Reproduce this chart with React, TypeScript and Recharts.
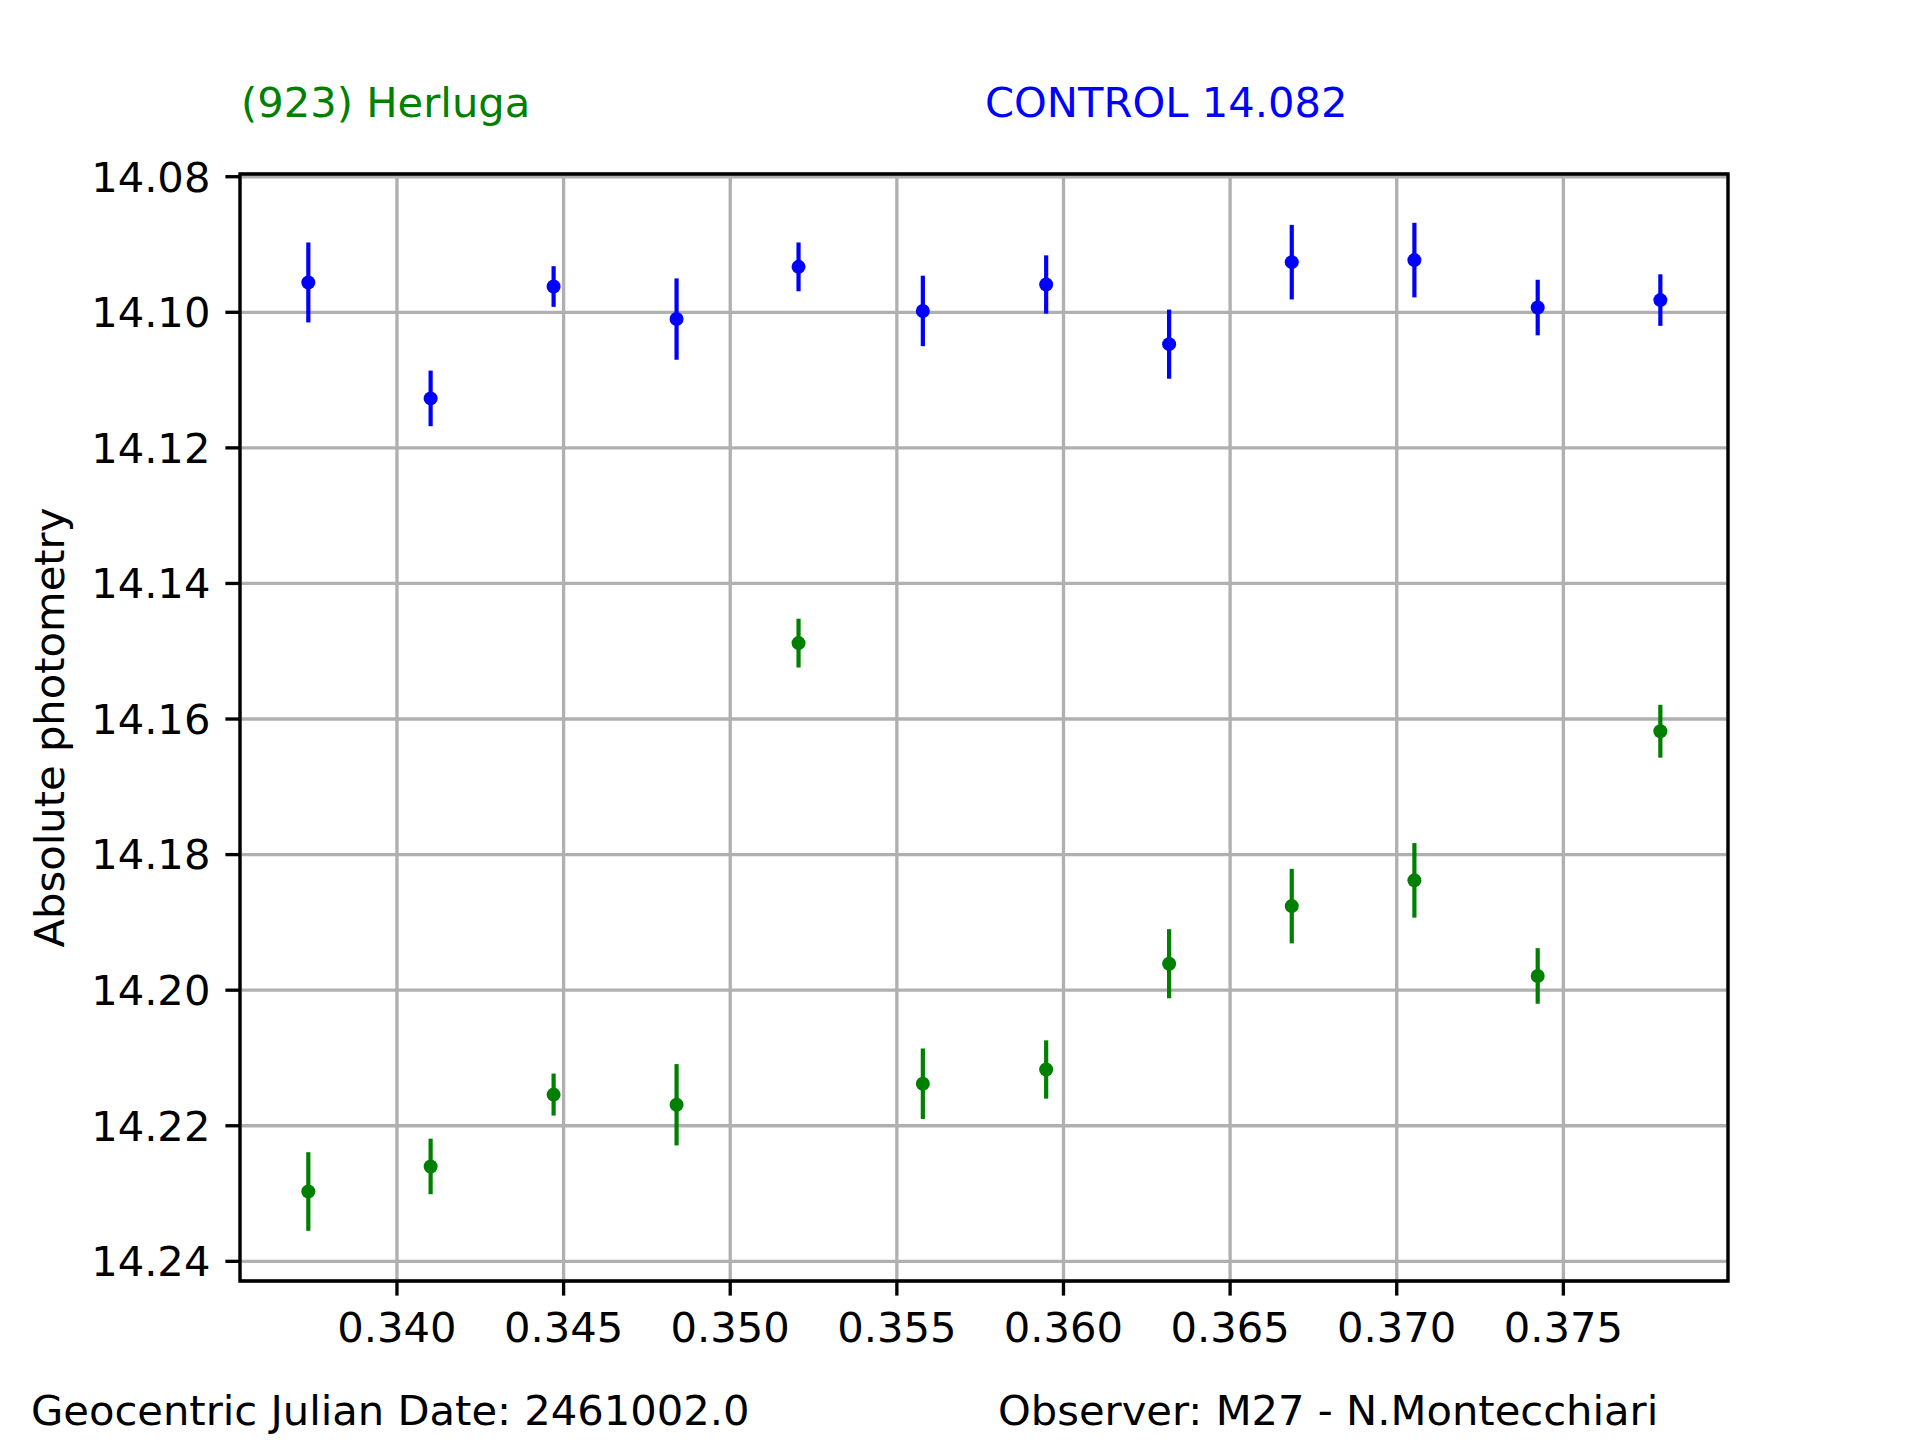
import React from 'react';
import { ScatterChart, Scatter, XAxis, YAxis, CartesianGrid, ErrorBar, ReferenceArea } from 'recharts';

// Time (fraction of day, GJD 2461002.0 +)
const times = [0.33734, 0.34101, 0.3447, 0.34839, 0.35205, 0.35578, 0.35948, 0.36317, 0.36685, 0.37053, 0.37423, 0.37791];
// (923) Herluga magnitudes and errors
const targetMag = [14.2297, 14.226, 14.2154, 14.2169, 14.1488, 14.2138, 14.2117, 14.1961, 14.1876, 14.1838, 14.1979, 14.1618];
const targetErr = [0.0058, 0.0041, 0.0031, 0.006, 0.0036, 0.0052, 0.0043, 0.0051, 0.0055, 0.0055, 0.0041, 0.0039];
// Control star magnitudes and errors
const controlMag = [14.0956, 14.1127, 14.0962, 14.101, 14.0933, 14.0998, 14.0959, 14.1047, 14.0926, 14.0923, 14.0993, 14.0982];
const controlErr = [0.0059, 0.0041, 0.003, 0.006, 0.0036, 0.0052, 0.0043, 0.0051, 0.0055, 0.0055, 0.0041, 0.0038];

const xTicks = [0.34, 0.345, 0.35, 0.355, 0.36, 0.365, 0.37, 0.375];
const yTicks = [14.08, 14.1, 14.12, 14.14, 14.16, 14.18, 14.2, 14.22, 14.24];
const xDomain = [0.33529, 0.37994];
const yDomain = [14.0796, 14.2429];

const targetLabel = '(923) Herluga';
const controlLabel = 'CONTROL 14.082';
const xFooter = 'Geocentric Julian Date: 2461002.0';
const observer = 'Observer: M27 - N.Montecchiari';
const yLabel = 'Absolute photometry';

const targetData = times.map((t, i) => ({ x: t, y: targetMag[i], err: targetErr[i] }));
const controlData = times.map((t, i) => ({ x: t, y: controlMag[i], err: controlErr[i] }));

const FONT = 'DejaVu Sans';
const FS = 41.67;
const LW = 3.33;
const BLUE = '#0000ff';
const GREEN = '#008000';

const X_AXIS_H = 80;
const Y_AXIS_W = 140;

const dot = (color: string) => (p: any) => <circle cx={p.cx} cy={p.cy} r={7} fill={color} />;

export default function App() {
  return (
    <div style={{ position: 'absolute', left: 0, top: 0, width: 1920, height: 1440, background: '#fff' }}>
      <div style={{ position: 'absolute', left: 0, top: 0 }}>
        <ScatterChart
          width={1920}
          height={1440}
          margin={{ top: 174, right: 192, bottom: 159 - X_AXIS_H, left: 240 - Y_AXIS_W }}
        >
          <CartesianGrid stroke="#b0b0b0" strokeWidth={LW} />
          <XAxis
            type="number"
            dataKey="x"
            domain={xDomain}
            allowDataOverflow
            ticks={xTicks}
            interval={0}
            tickFormatter={(v: number) => v.toFixed(3)}
            height={X_AXIS_H}
            axisLine={false}
            tickSize={14.6}
            tickMargin={17}
            tickLine={{ stroke: '#000', strokeWidth: LW }}
            tick={{ fill: '#000', fontSize: FS, fontFamily: FONT }}
          />
          <YAxis
            type="number"
            dataKey="y"
            reversed
            domain={yDomain}
            allowDataOverflow
            ticks={yTicks}
            interval={0}
            tickFormatter={(v: number) => v.toFixed(2)}
            width={Y_AXIS_W}
            axisLine={false}
            tickSize={14.6}
            tickMargin={15}
            tickLine={{ stroke: '#000', strokeWidth: LW }}
            tick={{ fill: '#000', fontSize: FS, fontFamily: FONT }}
          />
          <Scatter data={controlData} isAnimationActive={false} shape={dot(BLUE)} fill={BLUE}>
            <ErrorBar dataKey="err" direction="y" width={0} stroke={BLUE} strokeWidth={4.2} isAnimationActive={false} />
          </Scatter>
          <Scatter data={targetData} isAnimationActive={false} shape={dot(GREEN)} fill={GREEN}>
            <ErrorBar dataKey="err" direction="y" width={0} stroke={GREEN} strokeWidth={4.2} isAnimationActive={false} />
          </Scatter>
          <ReferenceArea
            x1={xDomain[0]}
            x2={xDomain[1]}
            y1={yDomain[0]}
            y2={yDomain[1]}
            fill="none"
            fillOpacity={0}
            stroke="#000"
            strokeWidth={LW}
            ifOverflow="visible"
          />
        </ScatterChart>
      </div>
      <svg width={1920} height={1440} style={{ position: 'absolute', left: 0, top: 0, pointerEvents: 'none' }}>
        <g fontFamily={FONT} fontSize={FS}>
          <text x={241} y={117} fill={GREEN}>{targetLabel}</text>
          <text x={985} y={117} fill={BLUE}>{controlLabel}</text>
          <text x={31} y={1425} fill="#000">{xFooter}</text>
          <text x={998} y={1425} fill="#000">{observer}</text>
          <text x={64} y={727.5} fill="#000" textAnchor="middle" transform="rotate(-90 64 727.5)">{yLabel}</text>
        </g>
      </svg>
    </div>
  );
}
